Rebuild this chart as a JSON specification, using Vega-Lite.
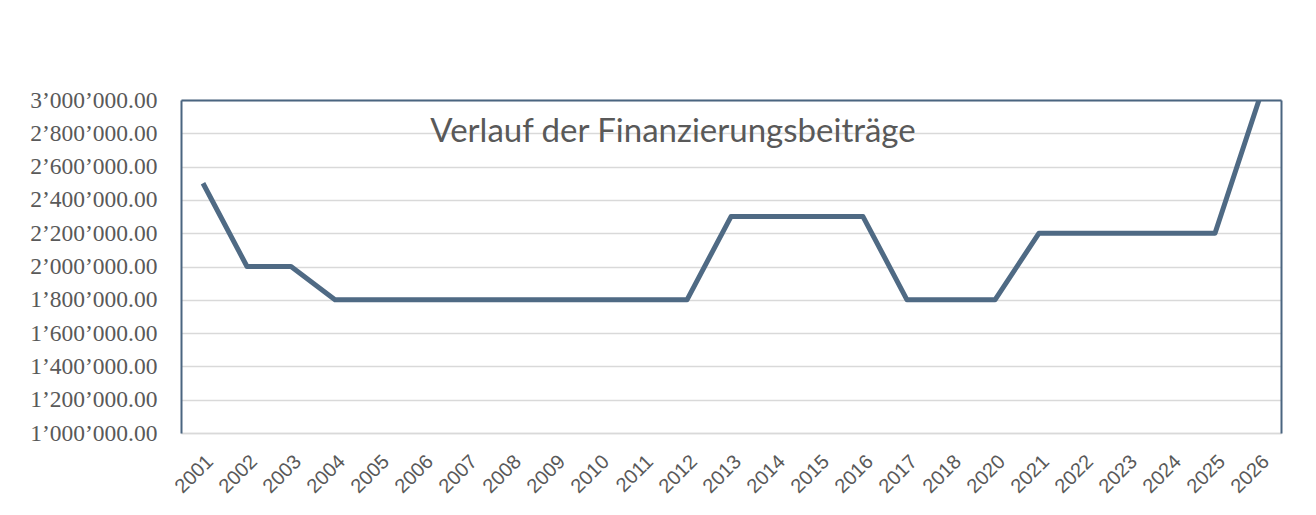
{
  "$schema": "https://vega.github.io/schema/vega-lite/v6.json",
  "width": 1100,
  "height": 333,
  "autosize": "none",
  "padding": {"left": 181, "top": 100, "right": 35, "bottom": 82},
  "background": "white",
  "config": {
    "locale": {"number": {"decimal": ".", "thousands": "’", "grouping": [3], "currency": ["", ""]}},
    "view": {"stroke": null},
    "axis": {"labelColor": "#595959", "ticks": false, "titleColor": "#595959"}
  },
  "datasets": {
    "beitraege": [
      {"jahr": "2001", "betrag": 2500000},
      {"jahr": "2002", "betrag": 2000000},
      {"jahr": "2003", "betrag": 2000000},
      {"jahr": "2004", "betrag": 1800000},
      {"jahr": "2005", "betrag": 1800000},
      {"jahr": "2006", "betrag": 1800000},
      {"jahr": "2007", "betrag": 1800000},
      {"jahr": "2008", "betrag": 1800000},
      {"jahr": "2009", "betrag": 1800000},
      {"jahr": "2010", "betrag": 1800000},
      {"jahr": "2011", "betrag": 1800000},
      {"jahr": "2012", "betrag": 1800000},
      {"jahr": "2013", "betrag": 2300000},
      {"jahr": "2014", "betrag": 2300000},
      {"jahr": "2015", "betrag": 2300000},
      {"jahr": "2016", "betrag": 2300000},
      {"jahr": "2017", "betrag": 1800000},
      {"jahr": "2018", "betrag": 1800000},
      {"jahr": "2020", "betrag": 1800000},
      {"jahr": "2021", "betrag": 2200000},
      {"jahr": "2022", "betrag": 2200000},
      {"jahr": "2023", "betrag": 2200000},
      {"jahr": "2024", "betrag": 2200000},
      {"jahr": "2025", "betrag": 2200000},
      {"jahr": "2026", "betrag": 3000000}
    ],
    "titel": [
      {"text": "Verlauf der Finanzierungsbeiträge", "jahr": "2012", "betrag": 2750000}
    ]
  },
  "layer": [
    {
      "data": {"name": "beitraege"},
      "mark": {"type": "line", "color": "#4f6a84", "strokeWidth": 5, "strokeJoin": "round", "clip": true},
      "encoding": {
        "x": {
          "field": "jahr", "type": "ordinal",
          "scale": {"type": "band", "paddingInner": 0, "paddingOuter": 0},
          "axis": {"title": null, "labelAngle": -45, "labelFont": "Liberation Sans", "labelFontSize": 20, "labelPadding": 18, "domainColor": "#d9d9d9", "domainWidth": 1.5, "orient": "bottom"}
        },
        "y": {
          "field": "betrag", "type": "quantitative",
          "scale": {"domain": [1000000, 3000000], "nice": false, "zero": false},
          "axis": {"title": null, "format": ",.2f", "values": [1000000, 1200000, 1400000, 1600000, 1800000, 2000000, 2200000, 2400000, 2600000, 2800000, 3000000], "labelFont": "Liberation Serif", "labelFontSize": 23.5, "labelPadding": 24, "gridColor": "#d9d9d9", "gridWidth": 1.5, "domainColor": "#4a6580", "domainWidth": 2, "orient": "left"}
        }
      }
    },
    {
      "data": {"name": "beitraege"},
      "mark": {"type": "line", "strokeOpacity": 0},
      "encoding": {
        "x": {
          "field": "jahr", "type": "ordinal",
          "axis": {"orient": "top", "title": null, "labels": false, "grid": false, "domainColor": "#4a6580", "domainWidth": 2}
        },
        "y": {
          "field": "betrag", "type": "quantitative",
          "axis": {"orient": "right", "title": null, "labels": false, "grid": false, "domainColor": "#4a6580", "domainWidth": 2}
        }
      }
    },
    {
      "data": {"name": "titel"},
      "mark": {"type": "text", "font": "Lato", "fontSize": 33, "color": "#595959", "align": "center", "baseline": "alphabetic", "dx": 8},
      "encoding": {
        "x": {"field": "jahr", "type": "ordinal", "bandPosition": 0, "axis": null},
        "y": {"field": "betrag", "type": "quantitative", "axis": null},
        "text": {"field": "text"}
      }
    }
  ],
  "resolve": {"axis": {"x": "independent", "y": "independent"}}
}
